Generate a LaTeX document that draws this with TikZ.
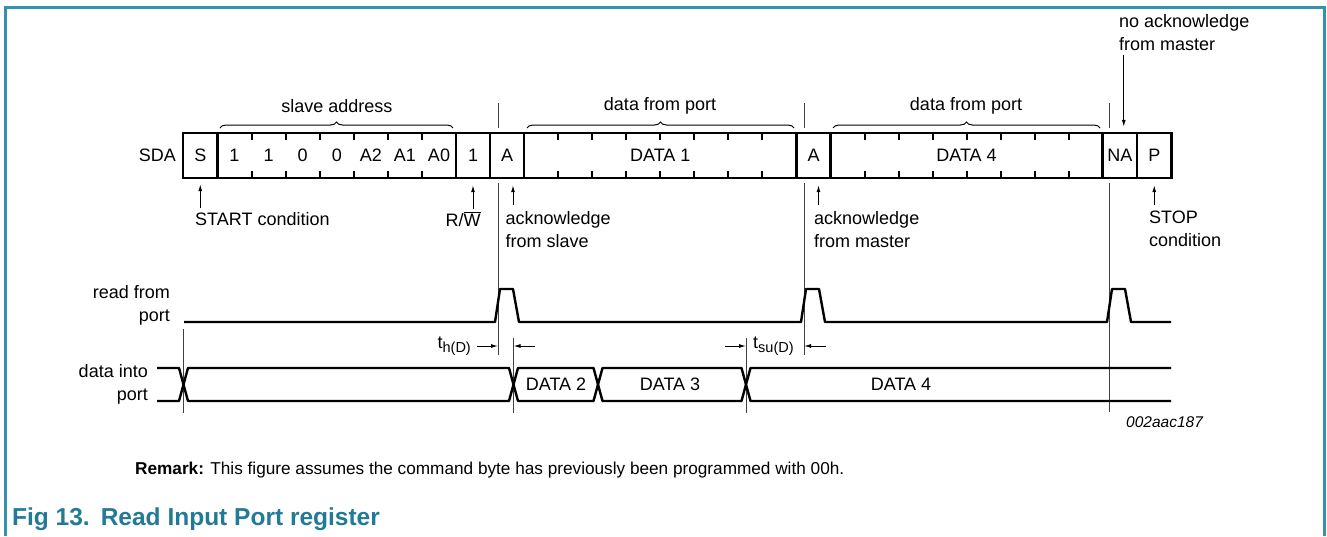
\documentclass[tikz,border=0pt]{standalone}
\usepackage{fontspec}
\setmainfont{Liberation Sans}
\usetikzlibrary{positioning}
\usetikzlibrary{arrows.meta, decorations.pathreplacing}

\definecolor{frameteal}{RGB}{52,146,176}
\definecolor{capteal}{RGB}{35,122,150}
\newcommand{\timesub}[1]{{\fontsize{14.5}{15}\selectfont\raisebox{-4pt}{#1}}}

\begin{document}
\begin{tikzpicture}[x=1pt,y=-1pt,
  lbl/.style={font=\fontsize{18}{23}\selectfont,inner sep=0pt},
  cell/.style={draw=black,line width=2.4pt,fill=white,minimum height=45pt,inner sep=0pt,font=\fontsize{18}{23}\selectfont},
  sigline/.style={line width=2.4pt,line join=round},
  refline/.style={black!75,line width=1pt},
  bitmark/.style={line width=2pt},
  ann/.style={line width=1pt,-{Latex[length=7pt,width=4pt]}},
  brc/.style={decorate,decoration={brace,amplitude=6pt},line width=1pt}]
\useasboundingbox (0,0) rectangle (1327,536);
\draw[frameteal,line width=2.5pt] (5.5,536) -- (5.5,7.5) -- (1324.5,7.5) -- (1324.5,536);

% reference lines
\draw[refline] (498,103) -- (498,128);
\draw[refline] (498,183) -- (498,355);
\draw[refline] (804,103) -- (804,128);
\draw[refline] (804,183) -- (804,355);
\draw[refline] (1109,103) -- (1109,128);
\draw[refline] (1109,183) -- (1109,412);
\draw[refline] (183.5,329) -- (183.5,413);
\draw[refline] (513.5,338) -- (513.5,413);
\draw[refline] (746,338) -- (746,413);

% SDA frame
\node[lbl,anchor=east] (sda) at (176,155.5) {SDA};
\node[cell,minimum width=34.5pt] (s) at (200.25,155.5) {S};
\node[cell,minimum width=238.5pt] (addr) at (336.75,155.5) {};
\node[cell,minimum width=34pt] (rw) at (473,155.5) {1};
\node[cell,minimum width=34pt] (a1) at (507,155.5) {A};
\node[cell,minimum width=272.5pt] (d1) at (660.25,155.5) {DATA 1};
\node[cell,minimum width=34pt] (a2) at (813.5,155.5) {A};
\node[cell,minimum width=272pt] (d4) at (966.5,155.5) {DATA 4};
\node[cell,minimum width=34.5pt] (na) at (1119.75,155.5) {NA};
\node[cell,minimum width=34.5pt] (p) at (1154.25,155.5) {P};
\node[lbl] (b6) at (234.5,155.5) {1};
\node[lbl] (b5) at (268.6,155.5) {1};
\node[lbl] (b4) at (302.7,155.5) {0};
\node[lbl] (b3) at (336.8,155.5) {0};
\node[lbl] (b2) at (370.8,155.5) {A2};
\node[lbl] (b1) at (404.9,155.5) {A1};
\node[lbl] (b0) at (439,155.5) {A0};
\foreach \x in {251.6,285.6,319.7,353.8,387.8,421.9,
                558,592,626,660,694,728,762,
                864.5,898.5,932.5,966.5,1000.5,1034.5,1068.5}{
  \draw[bitmark] (\x,133) -- (\x,140);
  \draw[bitmark] (\x,178) -- (\x,171);
}

% braces
\draw[brc] (220,128) -- (453,128);
\node[lbl] (slaveaddr) at (337,106) {slave address};
\draw[brc] (527,128) -- (794,128);
\node[lbl] (dfp1) at (660,106) {data from port};
\draw[brc] (833,128) -- (1100,128);
\node[lbl] (dfp4) at (966,106) {data from port};

% notes
\node[lbl,anchor=west] (startcond) at (195,219) {START condition};
\draw[ann] ([yshift=4pt]startcond.north -| s.south) -- ([yshift=-5pt]s.south);
\node[lbl] (rwlbl) at (463,219) {R/$\overline{\mbox{W}}$};
\draw[ann] ([yshift=3pt]rwlbl.north -| rw.south) -- ([yshift=-6pt]rw.south);
\node[lbl,anchor=north west,align=left] (ackslave) at (505.5,211) {acknowledge\\from slave};
\draw[ann] ([yshift=6pt]ackslave.north -| a1.south) ++(6,0) -- ([xshift=6pt,yshift=-6pt]a1.south);
\node[lbl,anchor=north west,align=left] (ackmaster) at (814,211) {acknowledge\\from master};
\draw[ann] ([yshift=6pt]ackmaster.north -| a2.south) ++(5,0) -- ([xshift=5pt,yshift=-6pt]a2.south);
\node[lbl,anchor=north west,align=left] (stopcond) at (1149,211) {STOP\\condition};
\draw[ann] ([yshift=6pt]stopcond.north -| p.south) -- ([yshift=-6pt]p.south);
\node[lbl,anchor=north west,align=left] (noack) at (1119,14) {no acknowledge\\from master};
\draw[ann] ([xshift=4pt,yshift=-4pt]noack.south west -| na.north) -- ([xshift=4pt,yshift=5pt]na.north);

% read from port
\node[lbl,anchor=east,align=right] (rfp) at (170,305) {read from\\port};
\draw[sigline] (184,322) -- (495,322) -- (500,289) -- (513,289) -- (519,322)
  -- (801,322) -- (806,289) -- (819,289) -- (825,322)
  -- (1107,322) -- (1112,289) -- (1125,289) -- (1131,322) -- (1171,322);

% data into port
\node[lbl,anchor=east,align=right] (dip) at (148,384.5) {data into\\port};
\draw[sigline] (157,368) -- (179,368) -- (183.5,384.5) -- (179,401) -- (157,401);
\draw[sigline] (183.5,384.5) -- (188,368) -- (509,368) -- (513.5,384.5) -- (509,401) -- (188,401) -- cycle;
\draw[sigline] (513.5,384.5) -- (518,368) -- (593.5,368) -- (598,384.5) -- (593.5,401) -- (518,401) -- cycle;
\draw[sigline] (598,384.5) -- (602.5,368) -- (741.5,368) -- (746,384.5) -- (741.5,401) -- (602.5,401) -- cycle;
\draw[sigline] (1171,368) -- (750.5,368) -- (746,384.5) -- (750.5,401) -- (1171,401);
\node[lbl] (data2) at (556,384.5) {DATA 2};
\node[lbl] (data3) at (670,384.5) {DATA 3};
\node[lbl] (data4) at (901,384.5) {DATA 4};

% timing
\node[lbl,anchor=east] (thd) at (471,346) {t\timesub{h(D)}};
\draw[ann] ([xshift=6pt]thd.east) -- ++(21,0);
\draw[ann] (535,346) -- (513.5,346);
\draw[ann] (725,346) -- (746,346);
\node[lbl,anchor=west] (tsud) at (753,346) {t\timesub{su(D)}};
\draw[ann] (826,346) -- (804,346);

\node[font=\fontsize{15.5}{18}\selectfont\itshape,inner sep=0pt,anchor=west] (figid) at (1126,422) {002aac187};
\node[font=\fontsize{17.2}{20}\selectfont,inner sep=0pt,anchor=west] (remark) at (135,470) {\textbf{Remark:} This figure assumes the command byte has previously been programmed with 00h.};
\node[font=\fontsize{24.5}{28}\selectfont\bfseries,text=capteal,inner sep=0pt,anchor=west] (caption) at (12,519) {Fig 13.\hspace{11pt}Read Input Port register};

\end{tikzpicture}
\end{document}
